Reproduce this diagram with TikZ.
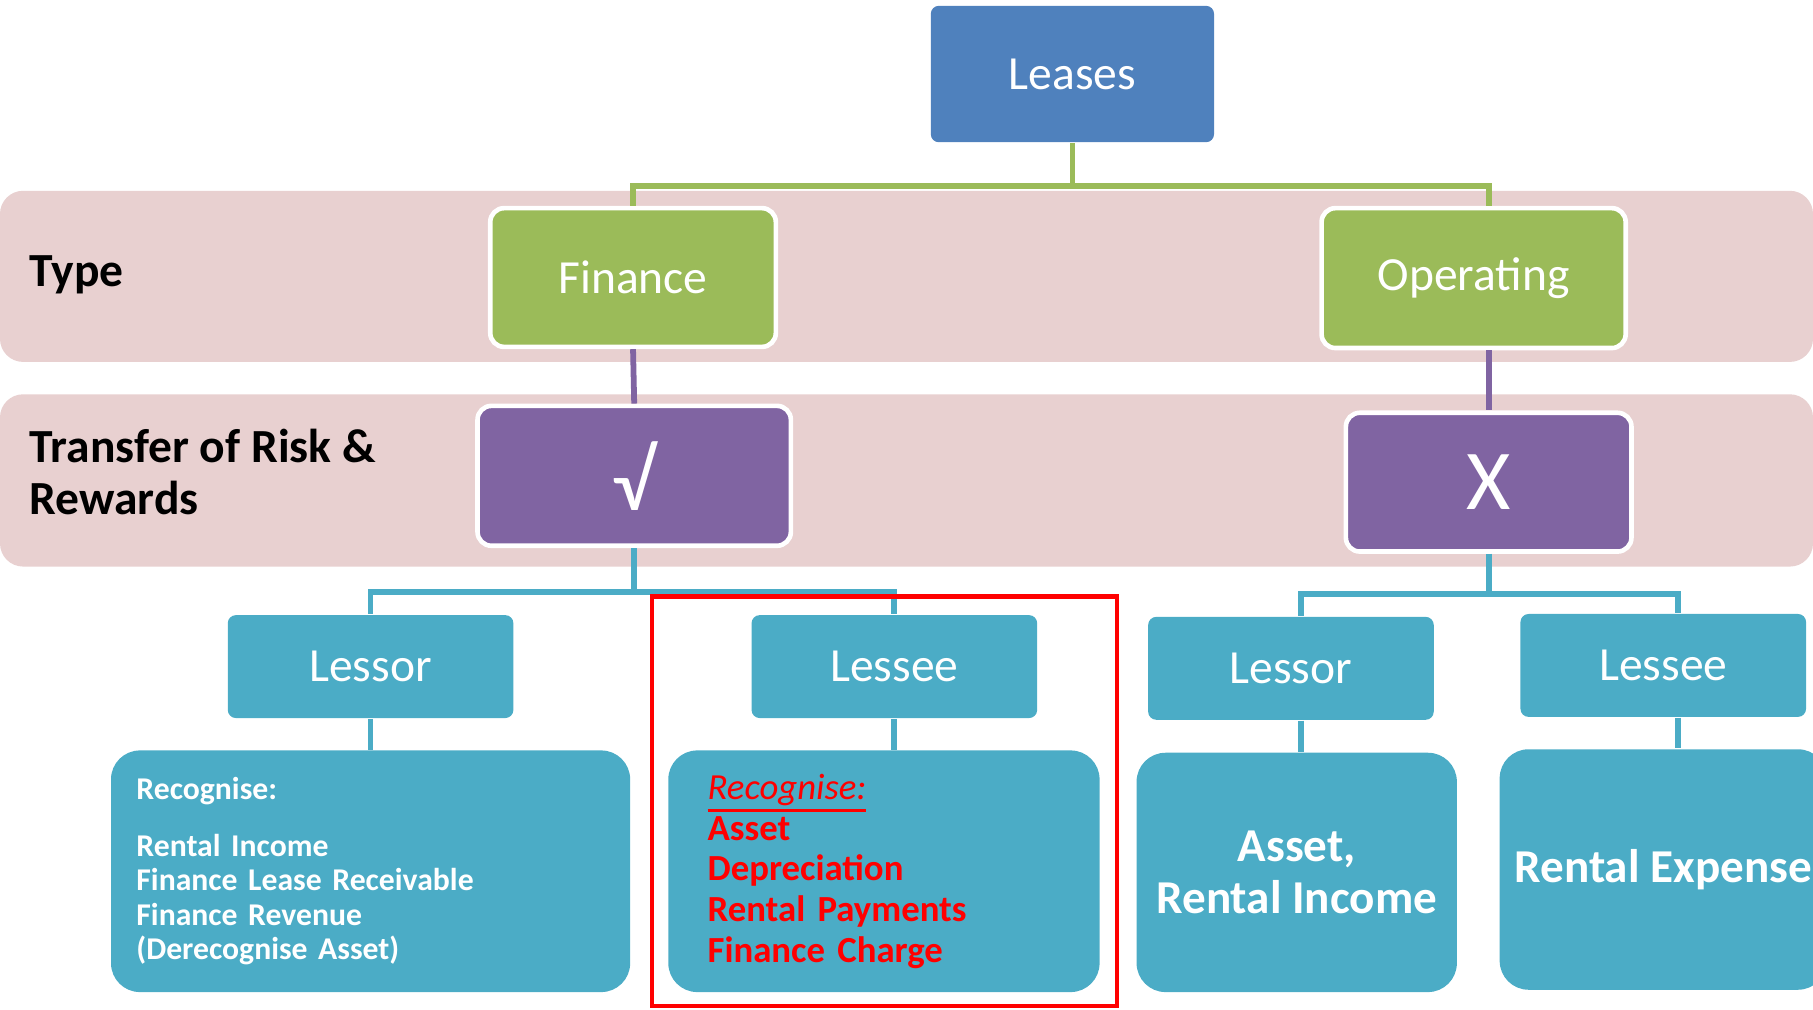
\documentclass[tikz,border=0pt]{standalone}
\usepackage{fontspec}
\setmainfont{Carlito}
\usetikzlibrary{positioning}
\definecolor{leaseblue}{HTML}{4F81BD}
\definecolor{typegreen}{HTML}{9BBB59}
\definecolor{riskpurple}{HTML}{8064A2}
\definecolor{partyteal}{HTML}{4BACC6}
\definecolor{bandpink}{HTML}{E8D0D0}
\newcommand\redline[1]{\leavevmode\vtop{\hbox{#1}\kern0.8pt\hrule height 0.7pt}}
\begin{document}
\begin{tikzpicture}[x=0.1mm,y=-0.1mm,
        box/.style={rectangle,rounded corners=0.7mm,text=white,inner sep=0pt,
            font=\fontsize{11.7}{14}\selectfont},
        framed/.style={box,draw=white,line width=0.4mm,rounded corners=1.2mm},
        party/.style={box,fill=partyteal,minimum width=24.7mm,minimum height=8.9mm},
        detail/.style={box,fill=partyteal,rounded corners=2.5mm,minimum height=20.9mm},
        label/.style={anchor=west,align=left,inner sep=0pt,font=\fontsize{11.7}{12.8}\selectfont\bfseries},
        link/.style={line width=0.5mm}]
    \useasboundingbox (0,0) rectangle (1568,873);
    \clip (0,0) rectangle (1568,873);
    % bands
    \fill[bandpink,rounded corners=2mm] (0,165) rectangle (1568,313);
    \fill[bandpink,rounded corners=2mm] (0,341) rectangle (1568,490);
    \node [label] (typelabel) at (25,238) {Type};
    \node [label] (risklabel) at (25,408) {Transfer of Risk \&\\Rewards};
    % top and types
    \node [box,fill=leaseblue,minimum width=24.5mm,minimum height=11.8mm] (leases) at (927.5,64) {Leases};
    \node [framed,fill=typegreen,minimum width=24.7mm,minimum height=12mm] (finance) at (547.5,240) {Finance};
    \node [framed,fill=typegreen,minimum width=26.3mm,minimum height=12.1mm] (operating) at (1274.5,240.5) {Operating};
    \node [framed,fill=riskpurple,minimum width=27.1mm,minimum height=12.1mm,
        font=\fontsize{21}{24}\selectfont] (check) at (548.5,411.5) {√};
    \node [framed,fill=riskpurple,minimum width=24.7mm,minimum height=12mm,
        font=\fontsize{21}{24}\selectfont] (cross) at (1287.5,417) {X};
    % parties
    \node [party] (lessorA) at (320.5,576.5) {Lessor};
    \node [party] (lesseeA) at (773.5,576.5) {Lessee};
    \node [party] (lessorB) at (1116.5,578) {Lessor};
    \node [party] (lesseeB) at (1438.5,575.5) {Lessee};
    % details
    \node [detail,minimum width=44.9mm,text width=40.5mm,align=left,inner xsep=2.2mm,
        font=\fontsize{7.8}{8.5}\selectfont\bfseries] (lessorAtext) at (320.5,753.5)
        {Recognise:\\[5.4pt] Rental Income\\ Finance Lease Receivable\\ Finance Revenue\\ (Derecognise Asset)};
    \node [detail,minimum width=37.3mm,text width=30.5mm,align=left,inner xsep=3.4mm,text=red,
        font=\fontsize{9.05}{10}\selectfont\bfseries] (lesseeAtext) at (764.5,753.5)
        {\redline{\mdseries\itshape Recognise:}\\ Asset\\ Depreciation\\ Rental Payments\\ Finance Charge};
    \node [detail,minimum width=27.7mm,minimum height=20.7mm,align=center,
        font=\fontsize{11.6}{12.8}\selectfont\bfseries] (lessorBtext) at (1121.5,754.5)
        {Asset,\\ Rental Income};
    \node [detail,minimum width=28.3mm,minimum height=20.8mm,
        font=\fontsize{11.6}{12.8}\selectfont\bfseries] (lesseeBtext) at (1438.5,752)
        {Rental Expense};
    % connectors
    \draw[link,typegreen] (leases.south) -- ++(0,37) -| (finance.north);
    \draw[link,typegreen] (leases.south) -- ++(0,37) -| (cross.north |- operating.north);
    \draw[link,riskpurple] (finance.south) -- (check.north);
    \draw[link,riskpurple] (cross.north |- operating.south) -- (cross.north);
    \draw[link,partyteal] (check.south) -- ++(0,38) -| (lessorA.north);
    \draw[link,partyteal] (check.south) -- ++(0,38) -| (lesseeA.north);
    \draw[link,partyteal] (cross.south) -- ++(0,35) -| ([xshift=0.85mm]lessorB.north);
    \draw[link,partyteal] (cross.south) -- ++(0,35) -| ([xshift=1.25mm]lesseeB.north);
    \draw[link,partyteal] (lessorA.south) -- (lessorA.south |- lessorAtext.north);
    \draw[link,partyteal] (lesseeA.south) -- (lesseeA.south |- lesseeAtext.north);
    \draw[link,partyteal] ([xshift=0.85mm]lessorB.south) -- ([xshift=0.85mm]lessorB.south |- lessorBtext.north);
    \draw[link,partyteal] ([xshift=1.25mm]lesseeB.south) -- ([xshift=1.25mm]lesseeB.south |- lesseeBtext.north);
    % highlight
    \draw[red,line width=0.4mm] (564,516) rectangle (966,870);
\end{tikzpicture}
\end{document}
